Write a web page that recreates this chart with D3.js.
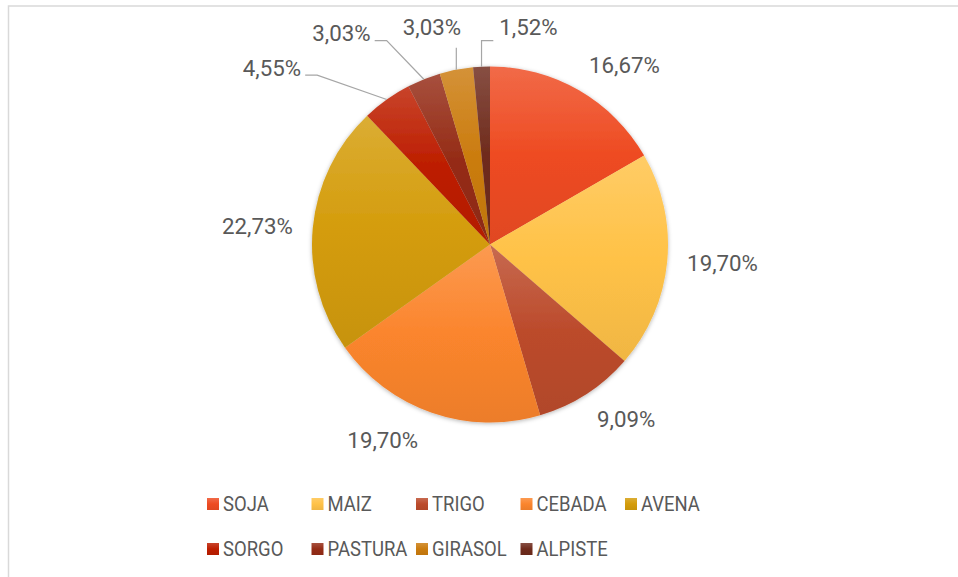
<!DOCTYPE html>
<html>
<head>
<meta charset="utf-8">
<script src="https://cdn.jsdelivr.net/npm/d3@7"></script>
<style>
  html, body { margin: 0; padding: 0; background: #fff; }
  svg { display: block; font-family: Roboto, "Liberation Sans", Arial, sans-serif; }
</style>
</head>
<body>
<svg id="chart" width="958" height="577"></svg>
<script>
// ---- data ----
const categories = ["SOJA", "MAIZ", "TRIGO", "CEBADA", "AVENA", "SORGO", "PASTURA", "GIRASOL", "ALPISTE"];
const counts     = [11, 13, 6, 13, 15, 3, 2, 2, 1];
const pctLabels  = ["16,67%", "19,70%", "9,09%", "19,70%", "22,73%", "4,55%", "3,03%", "3,03%", "1,52%"];
const colors     = ["#EE4B22", "#FFC247", "#BC4B2C", "#FB852D", "#D49C0B", "#BD1E00", "#952C16", "#CB7C0F", "#6F2B1C"];

// ---- layout ----
const W = 958, H = 577;
const cx = 490, cy = 244.5, R = 178;
const textColor = "#595959";
// callout labels for the thin slices: label centre offset from pie centre, and leader side
const callouts = {
  "SORGO":   { dx: -218,  dy: -177,  side: "right" },
  "PASTURA": { dx: -148.5, dy: -211.5, side: "right" },
  "GIRASOL": { dx: -58,   dy: -218,  side: "below" },
  "ALPISTE": { dx: 38.5,  dy: -218,  side: "left" }
};

const svg = d3.select("#chart");

// frame
svg.append("rect").attr("x", 8.5).attr("y", 6).attr("width", 980).attr("height", 620)
  .attr("fill", "#fff").attr("stroke", "#D9D9D9").attr("stroke-width", 1.5);

const defs = svg.append("defs");
const f = defs.append("filter").attr("id", "shadow").attr("x", "-10%").attr("y", "-10%").attr("width", "120%").attr("height", "120%");
f.append("feDropShadow").attr("dx", 0).attr("dy", 1).attr("stdDeviation", 2.2)
  .attr("flood-color", "#000").attr("flood-opacity", 0.3);

const colorScale = d3.scaleOrdinal().domain(categories).range(colors);
categories.forEach((c, i) => {
  const base = colorScale(c);
  const g = defs.append("linearGradient").attr("id", "grad" + i)
    .attr("x1", 0).attr("y1", 0).attr("x2", 0).attr("y2", 1);
  g.append("stop").attr("offset", "0%").attr("stop-color", d3.interpolateRgb(base, "#fff")(0.17));
  g.append("stop").attr("offset", "50%").attr("stop-color", base);
  g.append("stop").attr("offset", "100%").attr("stop-color", d3.interpolateRgb(base, "#000")(0.06));
});

const data = categories.map((c, i) => ({ cat: c, value: counts[i], label: pctLabels[i], i }));
const pie = d3.pie().value(d => d.value).sort(null);
const arcs = pie(data);
const arc = d3.arc().innerRadius(0).outerRadius(R);

const g = svg.append("g").attr("transform", `translate(${cx},${cy})`);
g.append("g").attr("filter", "url(#shadow)")
  .selectAll("path").data(arcs).join("path")
  .attr("d", arc)
  .attr("fill", d => `url(#grad${d.data.i})`);

// labels
const fontSize = 23, sX = 0.97;
const labelG = g.append("g");
arcs.forEach(d => {
  const mid = (d.startAngle + d.endAngle) / 2;
  const sx = Math.sin(mid), sy = -Math.cos(mid);
  const co = callouts[d.data.cat];
  const t = labelG.append("text").text(d.data.label)
    .attr("font-size", fontSize).attr("fill", textColor);
  const w = t.node().getBBox().width * sX, hCap = fontSize * 0.71;
  let x0, yTop; // left of text, top of digits
  if (!co) {
    const pr = R + 20;
    const px = sx * pr, py = sy * pr;
    x0 = sx >= 0.15 ? px : (sx <= -0.15 ? px - w : px - w / 2);
    if (sx < -0.15 && sy > 0.3) x0 -= 7;
    yTop = Math.abs(sy) < 0.3 ? py - hCap / 2 : (sy < 0 ? py - hCap : py);
  } else {
    x0 = co.dx - w / 2;
    yTop = co.dy - hCap / 2;
    const ex = sx * R, ey = sy * R;
    const bottom = yTop + hCap;
    let pts;
    if (co.side === "right") {
      const sxp = x0 + w + 4, yy = bottom - 0.5;
      pts = [[sxp, yy], [sxp + 12, yy], [ex, ey]];
    } else if (co.side === "left") {
      const sxp = x0 - 6, yy = bottom + 6;
      pts = [[sxp, yy], [ex, yy], [ex, ey]];
    } else {
      pts = [[ex, bottom + 13], [ex, ey]];
    }
    labelG.append("path").attr("d", d3.line()(pts))
      .attr("fill", "none").attr("stroke", "#A6A6A6").attr("stroke-width", 1.2);
  }
  t.attr("transform", `translate(${x0},${yTop + hCap}) scale(${sX},1)`);
});

// legend
const legendCols = 5, colW = 104.5, legX = 207, legY = [504, 549], sq = 12;
const legFont = 21, legSX = 0.88;
const leg = svg.append("g");
data.forEach((d, k) => {
  const col = k % legendCols, row = Math.floor(k / legendCols);
  const x = legX + col * colW, yc = legY[row];
  leg.append("rect").attr("x", x).attr("y", yc - sq / 2).attr("width", sq).attr("height", sq)
    .attr("fill", `url(#grad${d.i})`);
  leg.append("text")
    .attr("transform", `translate(${x + sq + 4},${yc + legFont * 0.71 / 2}) scale(${legSX},1)`)
    .attr("font-size", legFont).attr("fill", textColor).text(d.cat);
});
</script>
</body>
</html>
